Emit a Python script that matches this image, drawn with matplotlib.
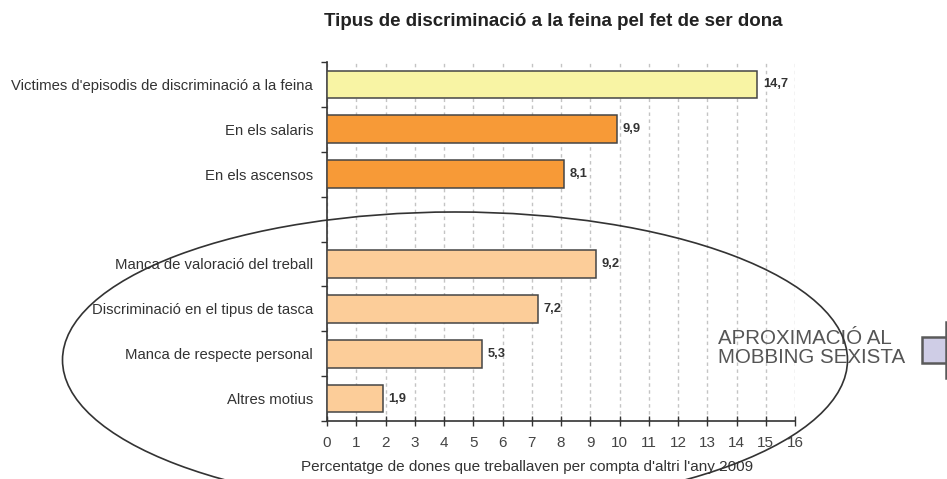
import matplotlib.pyplot as plt
from matplotlib.patches import Ellipse, Rectangle
from matplotlib.lines import Line2D

plt.rcParams['font.family'] = ['Liberation Sans', 'DejaVu Sans']

# Data
categories = ["Victimes d'episodis de discriminació a la feina",
              "En els salaris",
              "En els ascensos",
              "Manca de valoració del treball",
              "Discriminació en el tipus de tasca",
              "Manca de respecte personal",
              "Altres motius"]
values = [14.7, 9.9, 8.1, 9.2, 7.2, 5.3, 1.9]
groups = [0, 1, 1, 2, 2, 2, 2]
group_colors = ['#f8f4a4', '#f79a37', '#fccd99']

title = "Tipus de discriminació a la feina pel fet de ser dona"
xlabel = "Percentatge de dones que treballaven per compta d'altri l'any 2009"
note = "APROXIMACIÓ AL\nMOBBING SEXISTA"

fig = plt.figure(figsize=(9.47, 4.79), dpi=100)
W, H = 947, 479
ax = fig.add_axes([327 / W, 1 - 421 / H, 468 / W, 359 / H])

# one empty slot between the first two groups and the last one
pos = []
p = 0
for i, g in enumerate(groups):
    if i > 0 and g == 2 and groups[i - 1] != 2:
        p += 1
    pos.append(p)
    p += 1
nslots = p

ax.barh(pos, values, height=0.62, color=[group_colors[g] for g in groups],
        edgecolor='#454545', linewidth=1.1, zorder=3)
for y, v in zip(pos, values):
    ax.text(v + 0.2, y, f"{v:.1f}".replace('.', ','), va='center', ha='left',
            fontsize=9.3, fontweight='bold', color='#333333')

ax.set_ylim(nslots - 0.5, -0.5)
ax.set_xlim(0, 16)
ax.set_xticks(range(17))
ax.tick_params(axis='x', direction='inout', length=7, width=1, colors='#333333',
               labelsize=11, labelcolor='#444444', pad=7)
ax.set_yticks([i - 0.5 for i in range(nslots + 1)])
ax.set_yticklabels([])
ax.tick_params(axis='y', which='major', direction='out', length=4, width=1, colors='#333333')
ax.set_yticks(pos, minor=True)
ax.set_yticklabels(categories, minor=True)
ax.tick_params(axis='y', which='minor', length=0, pad=10, labelsize=10.7, labelcolor='#333333')

ax.grid(axis='x', color='#c4c4c4', linestyle=(0, (2.5, 2.5)), linewidth=1, zorder=0)
for s in ['top', 'right']:
    ax.spines[s].set_visible(False)
for s in ['left', 'bottom']:
    ax.spines[s].set_color('#333333')
    ax.spines[s].set_linewidth(1.2)

fig.text(553 / W, 1 - 21 / H, title, ha='center', va='center', fontsize=13.5,
         fontweight='bold', color='#222222')
fig.text(527 / W, 1 - 467 / H, xlabel, ha='center', va='center', fontsize=11,
         color='#333333')
fig.text(718 / W, 1 - 348 / H, note, ha='left', va='center', fontsize=14.8,
         color='#555555', linespacing=0.95)

# ellipse around the mobbing group
fig.add_artist(Ellipse((455 / W, 1 - 360 / H), 785 / W, 296 / H, fill=False,
                       edgecolor='#333333', linewidth=1.2, transform=fig.transFigure,
                       zorder=5))
# cut-off box at the right edge
fig.add_artist(Rectangle((922 / W, 1 - 363 / H), 40 / W, 26 / H, facecolor='#cfcde6',
                         edgecolor='#5a5a5a', linewidth=1.8, transform=fig.transFigure))
fig.add_artist(Line2D([946 / W, 946 / W], [1 - 322 / H, 1 - 378 / H], color='#5a5a5a',
                      linewidth=1.8, transform=fig.transFigure))

fig.savefig('out.png', dpi=100)
